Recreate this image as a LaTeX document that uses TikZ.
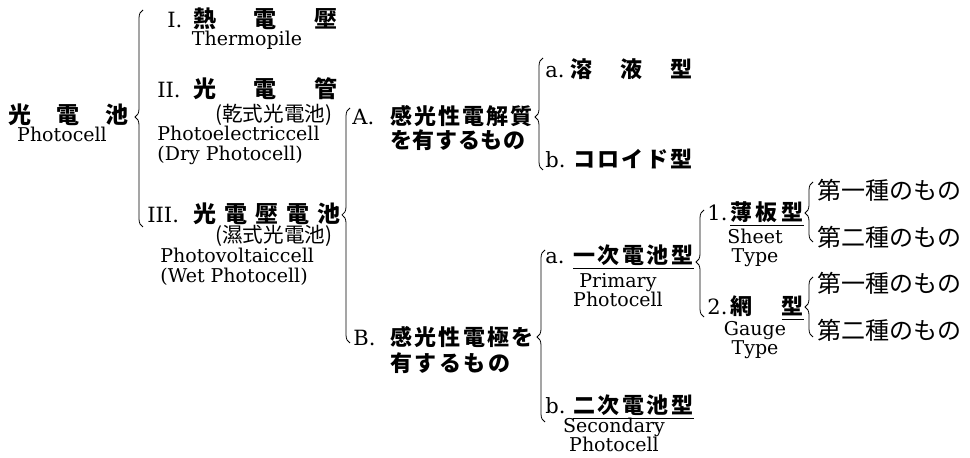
\documentclass[tikz,border=0pt]{standalone}
\usepackage{fontspec}
\setmainfont{DejaVu Serif}
\newfontfamily\jp{Noto Sans CJK JP}
\usetikzlibrary{positioning,decorations.pathreplacing}
\newcommand{\spread}[2]{\makebox[#1][s]{#2}}
\tikzset{
    %Define style for headings
    hd/.style={
           anchor=west,
           inner sep=0pt,
           text height=9.5pt,
           text depth=1.5pt,
           font=\jp\bfseries\fontsize{11}{13}\selectfont},
    hdbig/.style={
           hd,
           font=\jp\bfseries\fontsize{11.5}{13}\selectfont},
    %Define style for numbering
    lbl/.style={
           anchor=west,
           inner sep=0pt,
           text height=9.5pt,
           text depth=1.5pt,
           font=\fontsize{10.5}{13}\selectfont},
    %Define style for english names
    en/.style={
           inner sep=0pt,
           text height=7pt,
           text depth=2pt,
           font=\fontsize{9.5}{11}\selectfont},
    %Define style for small japanese
    sm/.style={
           anchor=west,
           inner sep=0pt,
           font=\jp\fontsize{10.3}{12}\selectfont},
    kind/.style={
           anchor=west,
           inner sep=0pt,
           font=\jp\fontsize{12}{14}\selectfont},
    % Define brace style
    br/.style={
           decorate,
           decoration={brace, amplitude=4pt, aspect=#1},
           thin},
    br/.default=0.5,
    ul/.style={line width=0.8pt}
}
\begin{document}
\begin{tikzpicture}[x=0.5pt,y=-0.5pt]
\useasboundingbox (0,0) rectangle (970,458);
% root
\node[hdbig](root) at (8,116){\spread{60pt}{光\hfill 電\hfill 池}};
\node[en](rootE) at (62,137){Photocell};
% I, II, III
\node[lbl](n1) at (167,20){I.};
\node[hdbig](t1) at (193,20){\spread{72pt}{熱\hfill 電\hfill 壓}};
\node[en](e1) at (247,41){Thermopile};
\node[lbl](n2) at (157,90){II.};
\node[hdbig](t2) at (193,90){\spread{72pt}{光\hfill 電\hfill 管}};
\node[sm](s2) at (215,115){(乾式光電池)};
\node[en,anchor=west](e2) at (157,136){Photoelectriccell};
\node[en,anchor=west](e2b) at (157,156){(Dry Photocell)};
\node[lbl](n3) at (147,215){III.};
\node[hdbig](t3) at (193,215){\spread{73.5pt}{光\hfill 電\hfill 壓\hfill 電\hfill 池}};
\node[sm](s3) at (215,236){(濕式光電池)};
\node[en,anchor=west](e3) at (160,258){Photovoltaiccell};
\node[en,anchor=west](e3b) at (160,278){(Wet Photocell)};
% A
\node[lbl](nA) at (352,117){A.};
\node[hd](tA) at (390,117){\spread{71pt}{感\hfill 光\hfill 性\hfill 電\hfill 解\hfill 質}};
\node[hd](tA2) at (390,141){\spread{67.5pt}{を\hfill 有\hfill す\hfill る\hfill も\hfill の}};
\node[lbl](nAa) at (545,70){a.};
\node[hd](tAa) at (570,70){\spread{61pt}{溶\hfill 液\hfill 型}};
\node[lbl](nAb) at (545,160){b.};
\node[hd](tAb) at (573,160){\spread{59.5pt}{コ\hfill ロ\hfill イ\hfill ド\hfill 型}};
% B
\node[lbl](nB) at (353,338){B.};
\node[hd](tB) at (390,338){\spread{71.5pt}{感\hfill 光\hfill 性\hfill 電\hfill 極\hfill を}};
\node[hd](tB2) at (390,364){\spread{60pt}{有\hfill す\hfill る\hfill も\hfill の}};
\node[lbl](nBa) at (545,256){a.};
\node[hd](tBa) at (573,256){\spread{60pt}{一\hfill 次\hfill 電\hfill 池\hfill 型}};
\node[en](eBa) at (618,283){Primary};
\node[en,below=0pt of eBa](eBa2){Photocell};
\node[lbl](nBb) at (545,406){b.};
\node[hd](tBb) at (573,406){\spread{60pt}{二\hfill 次\hfill 電\hfill 池\hfill 型}};
\node[en](eBb) at (614,428){Secondary};
\node[en,below=0pt of eBb](eBb2){Photocell};
% 1, 2
\node[lbl](n1s) at (707,213){1.};
\node[hd](t1s) at (730,213){\spread{36.5pt}{薄\hfill 板\hfill 型}};
\node[en](e1s) at (755,239){Sheet};
\node[en,below=0pt of e1s](e1s2){Type};
\node[lbl](n2g) at (707,307){2.};
\node[hd](t2g) at (730,307){\spread{36.5pt}{網\hfill 型}};
\node[en](e2g) at (755,331){Gauge};
\node[en,below=0pt of e2g](e2g2){Type};
\node[kind](k11) at (817,190){第一種のもの};
\node[kind](k12) at (817,237){第二種のもの};
\node[kind](k21) at (817,283){第一種のもの};
\node[kind](k22) at (817,330){第二種のもの};
% underlines
\draw[ul] ([yshift=-0.6pt]tBa.south west) -- ([yshift=-0.6pt]tBa.south east);
\draw[ul] ([yshift=-0.6pt]tBb.south west) -- ([yshift=-0.6pt]tBb.south east);
\draw[ul] ([yshift=-0.6pt]t1s.south west) -- ([yshift=-0.6pt]t1s.south east);
\draw[ul] ([xshift=-11pt,yshift=-0.6pt]t2g.south east) -- ([yshift=-0.6pt]t2g.south east);
% braces
\coordinate (b1s) at (143,227); \coordinate (b1n) at (143,10);
\coordinate (b2s) at (350,343); \coordinate (b2n) at (350,108);
\coordinate (b3s) at (543,170); \coordinate (b3n) at (543,58);
\coordinate (b4s) at (545,422); \coordinate (b4n) at (545,250);
\coordinate (b5s) at (704,317); \coordinate (b5n) at (704,210);
\coordinate (b6s) at (813,242); \coordinate (b6n) at (813,182);
\coordinate (b7s) at (813,337); \coordinate (b7n) at (813,277);
\draw[br=0.507] (b1s) -- (b1n);
\draw[br=0.545] (b2s) -- (b2n);
\draw[br=0.473] (b3s) -- (b3n);
\draw[br=0.494] (b4s) -- (b4n);
\draw[br=0.514] (b5s) -- (b5n);
\draw[br=0.483] (b6s) -- (b6n);
\draw[br] (b7s) -- (b7n);
\end{tikzpicture}
\end{document}
